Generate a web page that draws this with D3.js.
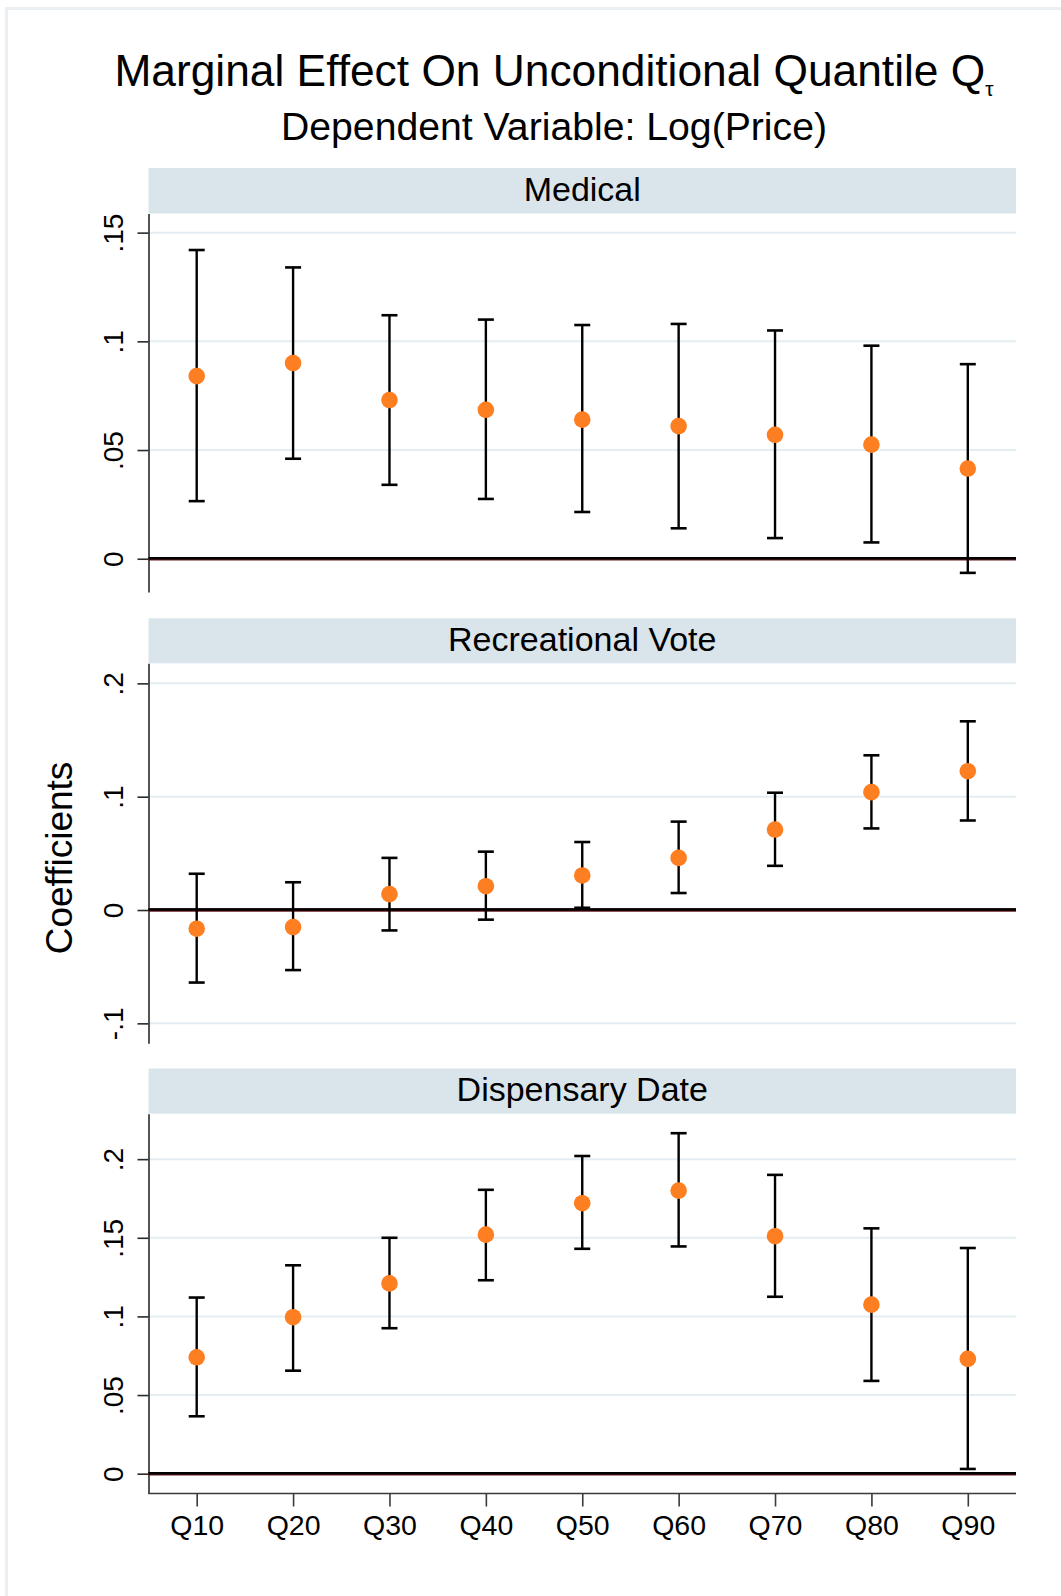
<!DOCTYPE html>
<html>
<head>
<meta charset="utf-8">
<script src="https://cdn.jsdelivr.net/npm/d3@7/dist/d3.min.js"></script>
<style>
  html, body { margin: 0; padding: 0; background: #fff; }
  svg { display: block; font-family: "Liberation Sans", Arial, Helvetica, sans-serif; }
</style>
</head>
<body>
<div id="chart"></div>
<script>
// Quantile categories on the x axis
const quantiles = ["Q10", "Q20", "Q30", "Q40", "Q50", "Q60", "Q70", "Q80", "Q90"];

// Panel titles
const panelTitles = ["Medical", "Recreational Vote", "Dispensary Date"];

// Medical: point estimates and confidence bounds
const medicalCoef = [0.084, 0.090, 0.073, 0.0685, 0.064, 0.061, 0.057, 0.0525, 0.0415];
const medicalHi   = [0.142, 0.134, 0.112, 0.110, 0.1075, 0.108, 0.105, 0.098, 0.0895];
const medicalLo   = [0.0265, 0.046, 0.034, 0.0275, 0.0215, 0.014, 0.0095, 0.0075, -0.0065];

// Recreational vote
const recCoef = [-0.0165, -0.015, 0.014, 0.021, 0.0305, 0.046, 0.071, 0.104, 0.1225];
const recHi   = [0.032, 0.0245, 0.046, 0.0515, 0.060, 0.078, 0.1035, 0.1365, 0.1665];
const recLo   = [-0.064, -0.053, -0.018, -0.0085, 0.002, 0.015, 0.039, 0.072, 0.079];

// Dispensary date
const dispCoef = [0.074, 0.0995, 0.121, 0.152, 0.172, 0.180, 0.151, 0.1075, 0.073];
const dispHi   = [0.112, 0.1325, 0.150, 0.1805, 0.202, 0.2165, 0.190, 0.156, 0.1435];
const dispLo   = [0.0365, 0.0655, 0.0925, 0.123, 0.143, 0.1445, 0.1125, 0.059, 0.003];

// Y-axis ticks and ranges for each panel
const medicalTicks = [0, 0.05, 0.1, 0.15];
const recTicks     = [-0.1, 0, 0.1, 0.2];
const dispTicks    = [0, 0.05, 0.1, 0.15, 0.2];
const medicalRange = [-0.0153, 0.1588];
const recRange     = [-0.1176, 0.2177];
const dispRange    = [-0.0126, 0.2289];

const mainTitle = "Marginal Effect On Unconditional Quantile Q";
const mainTitleSub = "\u03c4";
const subTitle = "Dependent Variable: Log(Price)";
const yTitle = "Coefficients";

const W = 1061, H = 1596;
const FONT = '"Liberation Sans", Arial, Helvetica, sans-serif';
const ORANGE = "#fe7f22";
const STRIP = "#d9e5eb";
const GRID = "#e4eef2";

const panels = [
  { title: panelTitles[0], coef: medicalCoef, hi: medicalHi, lo: medicalLo, ticks: medicalTicks, range: medicalRange, stripTop: 168, top: 213.5, bottom: 592 },
  { title: panelTitles[1], coef: recCoef, hi: recHi, lo: recLo, ticks: recTicks, range: recRange, stripTop: 618.3, top: 663.3, bottom: 1043.3 },
  { title: panelTitles[2], coef: dispCoef, hi: dispHi, lo: dispLo, ticks: dispTicks, range: dispRange, stripTop: 1068.5, top: 1113.7, bottom: 1493.5, xAxis: true }
];

const left = 148.5, right = 1016;

const svg = d3.select("#chart").append("svg")
  .attr("width", W).attr("height", H)
  .attr("viewBox", `0 0 ${W} ${H}`);

svg.append("rect").attr("width", W).attr("height", H).attr("fill", "#fff");

// light outer frame of the graph region
svg.append("rect")
  .attr("x", 6.5).attr("y", 8.5)
  .attr("width", W + 20).attr("height", H + 20)
  .attr("fill", "none").attr("stroke", "#e9eff2").attr("stroke-width", 3);

// Titles
const t = svg.append("text")
  .attr("x", 554).attr("y", 86)
  .attr("text-anchor", "middle")
  .attr("font-size", 44.3)
  .attr("fill", "#000");
t.append("tspan").text(mainTitle);
t.append("tspan").attr("font-size", 21).attr("dy", 10).text(mainTitleSub);

svg.append("text")
  .attr("x", 554).attr("y", 140)
  .attr("text-anchor", "middle")
  .attr("font-size", 39.2)
  .attr("fill", "#000")
  .text(subTitle);

// Shared y-axis title
svg.append("text")
  .attr("transform", "translate(72,858) rotate(-90)")
  .attr("text-anchor", "middle")
  .attr("font-size", 37)
  .attr("fill", "#000")
  .text(yTitle);

const x = d3.scalePoint().domain(quantiles).range([left, right]).padding(0.5);

const fmt = v => {
  if (Math.abs(v) < 1e-12) return "0";
  return String(+v.toFixed(4)).replace(/^(-?)0\./, "$1.");
};

panels.forEach(p => {
  const g = svg.append("g");
  const y = d3.scaleLinear().domain(p.range).range([p.bottom, p.top]);

  // strip header
  g.append("rect")
    .attr("x", left).attr("y", p.stripTop)
    .attr("width", right - left).attr("height", p.top - p.stripTop)
    .attr("fill", STRIP);
  g.append("text")
    .attr("x", (left + right) / 2)
    .attr("y", (p.stripTop + p.top) / 2 + 10)
    .attr("text-anchor", "middle")
    .attr("font-size", 34)
    .attr("fill", "#000")
    .text(p.title);

  // gridlines
  g.selectAll(".grid").data(p.ticks.filter(v => v !== 0)).join("line")
    .attr("x1", left).attr("x2", right)
    .attr("y1", d => y(d)).attr("y2", d => y(d))
    .attr("stroke", GRID).attr("stroke-width", 2);

  // y axis via d3.axisLeft
  const yAxis = d3.axisLeft(y).tickValues(p.ticks).tickFormat(fmt).tickSize(11).tickSizeOuter(0);
  const ya = g.append("g").attr("transform", `translate(${left},0)`).call(yAxis);
  ya.select(".domain").attr("stroke", "#2a2a2a").attr("stroke-width", 1.6);
  ya.selectAll(".tick line").attr("stroke", "#2a2a2a").attr("stroke-width", 1.6);
  ya.selectAll(".tick text")
    .attr("font-family", FONT)
    .attr("font-size", 28)
    .attr("fill", "#000")
    .attr("x", null).attr("dy", null)
    .attr("text-anchor", "middle")
    .attr("transform", "translate(-25.5,0) rotate(-90)");

  // zero reference line
  g.append("line")
    .attr("x1", left).attr("x2", right)
    .attr("y1", y(0)).attr("y2", y(0))
    .attr("stroke", "#6b1a22").attr("stroke-width", 3.4);
  g.append("line")
    .attr("x1", left).attr("x2", right)
    .attr("y1", y(0) - 0.5).attr("y2", y(0) - 0.5)
    .attr("stroke", "#000").attr("stroke-width", 2.4);

  // x axis for bottom panel
  if (p.xAxis) {
    const xAxis = d3.axisBottom(x).tickSize(13).tickSizeOuter(0).tickPadding(8);
    const xa = g.append("g").attr("transform", `translate(0,${p.bottom})`).call(xAxis);
    xa.select(".domain").attr("stroke", "#3a3a3a").attr("stroke-width", 1.6)
      .attr("d", `M${left},0H${right}`);
    xa.selectAll(".tick line").attr("stroke", "#3a3a3a").attr("stroke-width", 1.6);
    xa.selectAll(".tick text")
      .attr("font-family", FONT)
      .attr("font-size", 28.5)
      .attr("fill", "#000");
  }

  const rows = quantiles.map((q, i) => ({ q, c: p.coef[i], lo: p.lo[i], hi: p.hi[i] }));

  // confidence interval bars with caps
  const bars = g.selectAll(".ci").data(rows).join("g");
  bars.append("line")
    .attr("x1", d => x(d.q)).attr("x2", d => x(d.q))
    .attr("y1", d => y(d.lo)).attr("y2", d => y(d.hi))
    .attr("stroke", "#000").attr("stroke-width", 2.4);
  ["lo", "hi"].forEach(k => {
    bars.append("line")
      .attr("x1", d => x(d.q) - 8).attr("x2", d => x(d.q) + 8)
      .attr("y1", d => y(d[k])).attr("y2", d => y(d[k]))
      .attr("stroke", "#000").attr("stroke-width", 2.6);
  });

  // point estimates
  g.selectAll(".pt").data(rows).join("circle")
    .attr("cx", d => x(d.q)).attr("cy", d => y(d.c))
    .attr("r", 8.3)
    .attr("fill", ORANGE);
});
</script>
</body>
</html>
